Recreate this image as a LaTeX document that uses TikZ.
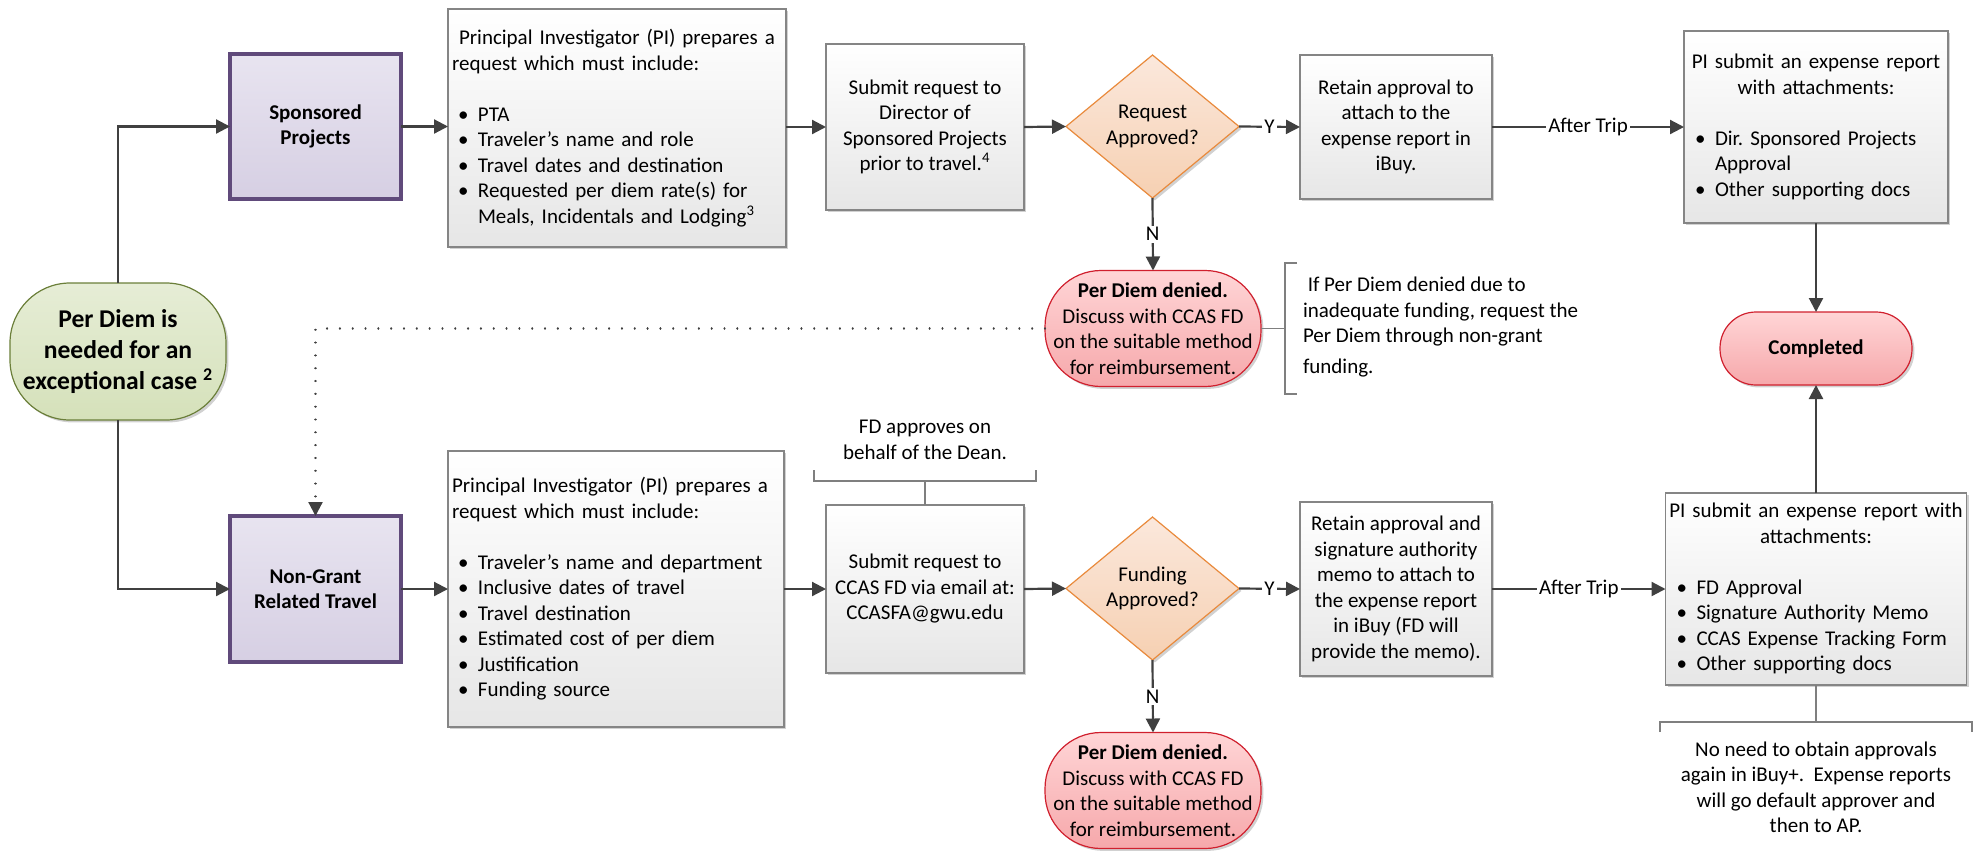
\documentclass[tikz,border=0pt]{standalone}
\usepackage{fontspec}
\setmainfont{Carlito}
\frenchspacing
\usetikzlibrary{arrows.meta,shapes.geometric,shadows}
\definecolor{linegray}{HTML}{404040}
\definecolor{boxgray}{HTML}{858585}
\definecolor{brkgray}{HTML}{7F7F7F}
\definecolor{graytop}{HTML}{FFFFFF}
\definecolor{graybot}{HTML}{E6E6E6}
\definecolor{purpbd}{HTML}{604A7B}
\definecolor{purptop}{HTML}{E8E4F0}
\definecolor{purpbot}{HTML}{D6CFE3}
\definecolor{orbd}{HTML}{E98A3C}
\definecolor{ortop}{HTML}{FBE8DC}
\definecolor{orbot}{HTML}{F6D0B2}
\definecolor{redbd}{HTML}{D0202E}
\definecolor{redtop}{HTML}{FFD5D6}
\definecolor{redbot}{HTML}{F6A8AB}
\definecolor{grnbd}{HTML}{6B7F3A}
\definecolor{grntop}{HTML}{E6EDD6}
\definecolor{grnbot}{HTML}{D5E1BA}
\newcommand\bul[1]{\hspace*{3pt}\makebox[10pt][l]{\textbullet}#1}
\begin{document}
\begin{tikzpicture}[x=0.5pt,y=-0.5pt,
  base/.style={font=\fontsize{10.5}{12.75}\selectfont, inner sep=0pt, outer sep=0pt, text=black},
  shd/.style={drop shadow={shadow xshift=1.2pt, shadow yshift=-1.2pt, opacity=0.18, fill=black}},
  graybox/.style={base, rectangle, draw=boxgray, line width=0.8pt, top color=graytop, bottom color=graybot, shd, align=center},
  catbox/.style={base, rectangle, draw=purpbd, line width=1.6pt, top color=purptop, bottom color=purpbot, shd, align=center, font=\fontsize{10.5}{12.5}\selectfont\bfseries},
  decision/.style={base, diamond, aspect=1.2, draw=orbd, line width=0.6pt, top color=ortop, bottom color=orbot, shd, align=center, minimum width=86.5pt, minimum height=71.5pt},
  deniedbox/.style={base, rectangle, rounded corners=28pt, draw=redbd, line width=0.6pt, top color=redtop, bottom color=redbot, shd, align=center, minimum width=108pt, minimum height=58pt},
  donebox/.style={base, rectangle, rounded corners=18pt, draw=redbd, line width=0.6pt, top color=redtop, bottom color=redbot, shd, align=center, font=\fontsize{10.5}{12.75}\selectfont\bfseries},
  startbox/.style={base, rectangle, rounded corners=30pt, draw=grnbd, line width=0.6pt, top color=grntop, bottom color=grnbot, shd, align=center, font=\fontsize{12.8}{15.5}\selectfont\bfseries},
  arr/.style={draw=linegray, line width=1.1pt, -{Triangle[length=7pt,width=7pt]}},
  dotarr/.style={draw=linegray, line width=1.1pt, line cap=round, dash pattern=on 0.01pt off 6.4pt, -{Triangle[length=7pt,width=7pt]}},
  brk/.style={draw=brkgray, line width=0.7pt},
  lbl/.style={base, fill=white, inner sep=1pt},
  notetext/.style={base}
]
\useasboundingbox (0,0) rectangle (1986,852);

% ---------- start ----------
\node[startbox, minimum width=108pt, minimum height=68.5pt] (need) at (118,351.5) {Per Diem is\\needed for an\\exceptional case \textsuperscript{2}};

% ---------- top row ----------
\node[catbox, minimum width=85.5pt, minimum height=72.5pt] (sp) at (315.5,126.5) {Sponsored\\Projects};
\node[graybox, minimum width=169pt, minimum height=119pt, text width=165pt, align=left] (pi1) at (617,128)
  {\ Principal Investigator (PI) prepares a\\request which must include:\\ \mbox{}\\
   \bul{PTA}\\ \bul{Traveler’s name and role}\\ \bul{Travel dates and destination}\\
   \bul{Requested per diem rate(s) for}\\ \hspace*{13pt}Meals, Incidentals and Lodging\textsuperscript{3}};
\node[graybox, minimum width=99pt, minimum height=83pt] (submit1) at (925,127)
  {Submit request to\\Director of\\Sponsored Projects\\prior to travel.\textsuperscript{4}};
\node[decision] (dia1) at (1152.5,126.5) {Request\\Approved?};
\node[graybox, minimum width=96pt, minimum height=72pt] (retain1) at (1396,127)
  {Retain approval to\\attach to the\\expense report in\\iBuy.};
\node[graybox, minimum width=132pt, minimum height=96pt, text width=127pt, align=left] (pisub1) at (1816,127)
  {\makebox[\linewidth][c]{PI submit an expense report}\\ \makebox[\linewidth][c]{with attachments:}\\ \mbox{}\\
   \bul{Dir. Sponsored Projects}\\ \hspace*{13pt}Approval\\ \bul{Other supporting docs}};
\node[donebox, minimum width=96pt, minimum height=36.5pt] (done) at (1816,348.5) {Completed};
\node[deniedbox] (denied1) at (1153,328.5)
  {\textbf{Per Diem denied.}\\Discuss with CCAS FD\\on the suitable method\\for reimbursement.};
\node[notetext, align=left, anchor=west] (note1) at (1303,327)
  {\ If Per Diem denied due to\\inadequate funding, request the\\Per Diem through non-grant\\[2.5pt]funding.};
\coordinate (b1) at (1285,328.5);

% ---------- bottom row ----------
\node[catbox, minimum width=85.5pt, minimum height=73pt] (ng) at (315.5,589) {Non-Grant\\Related Travel};
\node[graybox, minimum width=168pt, minimum height=138pt, text width=164pt, align=left] (pi2) at (616,589)
  {Principal Investigator (PI) prepares a\\request which must include:\\ \mbox{}\\
   \bul{Traveler’s name and department}\\ \bul{Inclusive dates of travel}\\ \bul{Travel destination}\\
   \bul{Estimated cost of per diem}\\ \bul{Justification}\\ \bul{Funding source}};
\node[graybox, minimum width=99pt, minimum height=84pt] (submit2) at (925,589)
  {Submit request to\\CCAS FD via email at:\\CCASFA@gwu.edu};
\node[notetext, align=center] (fdnote) at (925,440) {FD approves on\\behalf of the Dean.};
\coordinate (b2) at (925,481);
\node[decision] (dia2) at (1152.5,588.5) {Funding\\Approved?};
\node[graybox, minimum width=96pt, minimum height=87pt] (retain2) at (1396,589)
  {Retain approval and\\signature authority\\memo to attach to\\the expense report\\in iBuy (FD will\\provide the memo).};
\node[graybox, minimum width=150.5pt, minimum height=96pt, text width=145.5pt, align=left] (pisub2) at (1816,589)
  {\makebox[\linewidth][c]{PI submit an expense report with}\\ \makebox[\linewidth][c]{attachments:}\\ \mbox{}\\
   \bul{FD Approval}\\ \bul{Signature Authority Memo}\\ \bul{CCAS Expense Tracking Form}\\ \bul{Other supporting docs}};
\node[deniedbox] (denied2) at (1153,790.5)
  {\textbf{Per Diem denied.}\\Discuss with CCAS FD\\on the suitable method\\for reimbursement.};
\node[notetext, align=center] (noapp) at (1816,787.5)
  {No need to obtain approvals\\again in iBuy+.\ \ Expense reports\\will go default approver and\\then to AP.};
\coordinate (b3) at (1816,722);

% ---------- connectors ----------
\draw[arr] (need.north) |- (sp.west);
\draw[arr] (need.south) |- (ng.west);
\draw[arr] (sp.east) -- (sp.east -| pi1.west);
\draw[arr] (submit1.west -| pi1.east) -- (submit1.west);
\draw[arr] (submit1.east) -- (dia1.west);
\draw[arr] (dia1.east) -- node[lbl]{Y} (retain1.west);
\draw[arr] (dia1.south) -- node[lbl]{N} (denied1.north);
\draw[arr] (retain1.east) -- node[lbl]{After Trip} (pisub1.west);
\draw[arr] (pisub1.south) -- (done.north);
\draw[arr] (pisub2.north) -- (done.south);
\draw[dotarr] (denied1.west) -| (ng.north);
\draw[brk] (denied1.east) -- (b1);
\draw[brk] (1297,263) -| (1285,394) -- (1297,394);

\draw[arr] (ng.east) -- (ng.east -| pi2.west);
\draw[arr] (submit2.west -| pi2.east) -- (submit2.west);
\draw[arr] (submit2.east) -- (dia2.west);
\draw[arr] (dia2.east) -- node[lbl]{Y} (retain2.west);
\draw[arr] (dia2.south) -- node[lbl]{N} (denied2.north);
\draw[arr] (retain2.east) -- node[lbl]{After Trip} (pisub2.west);
\draw[brk] (submit2.north) -- (b2);
\draw[brk] (814,470) |- (1036,481) -- (1036,470);
\draw[brk] (pisub2.south) -- (b3);
\draw[brk] (1660,732) |- (1972,722) -- (1972,732);
\end{tikzpicture}
\end{document}
